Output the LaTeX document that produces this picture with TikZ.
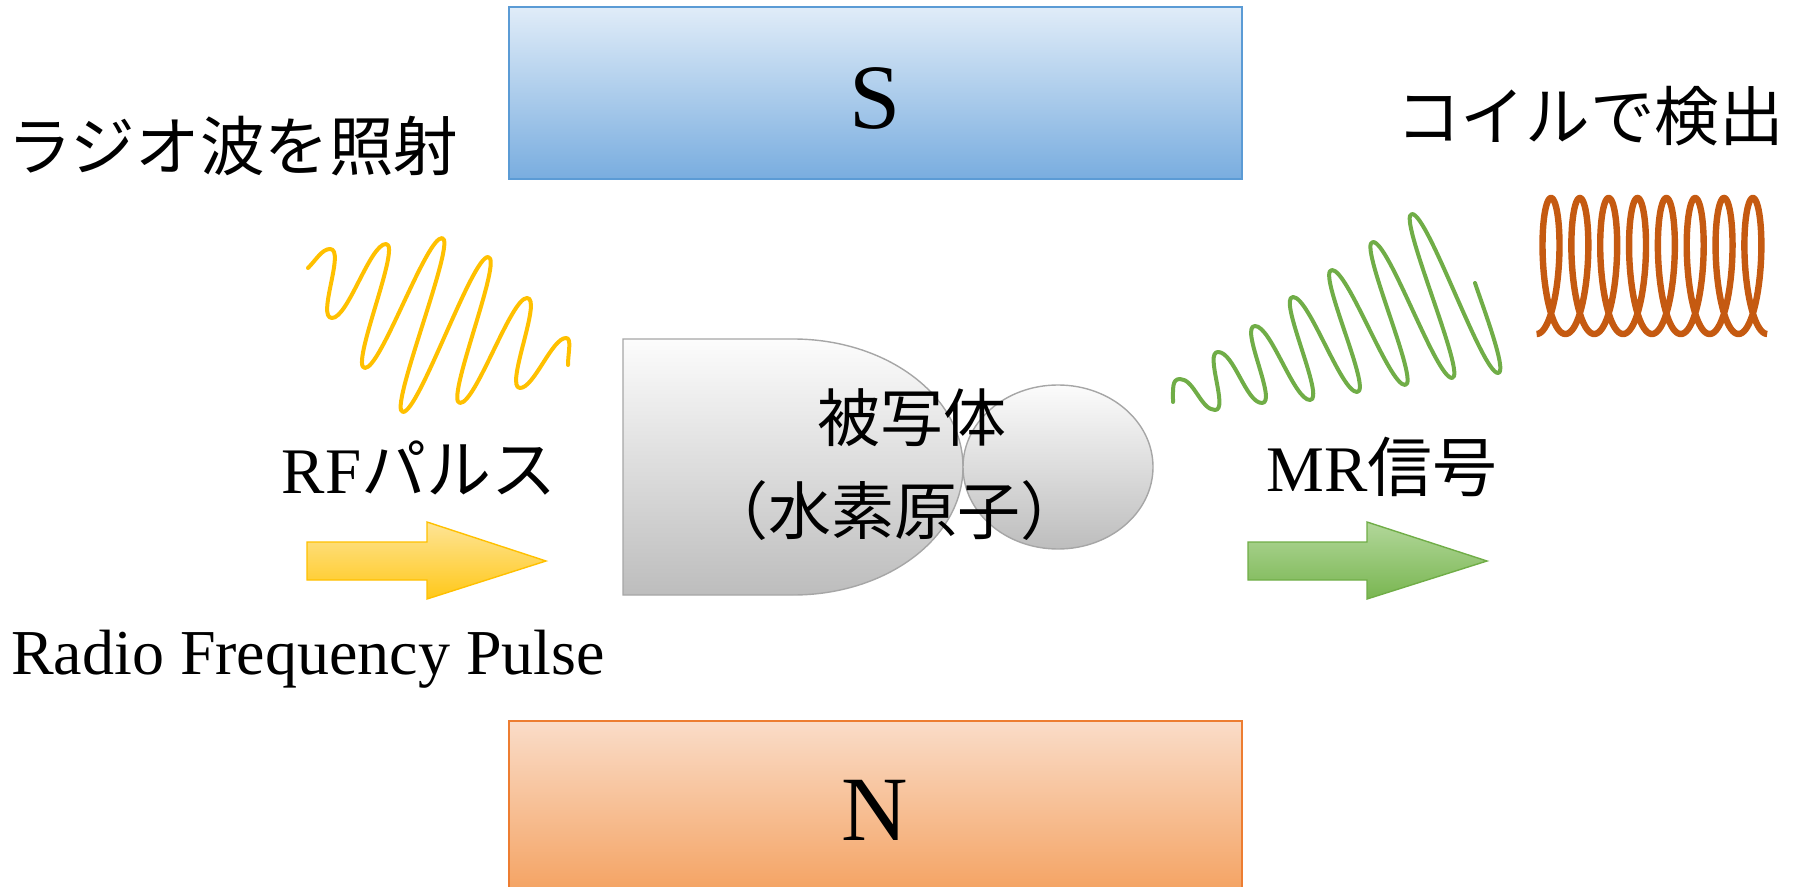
\documentclass[tikz,border=0pt]{standalone}
\usepackage{fontspec}
\setmainfont{Liberation Serif}
\newfontfamily\jp{Noto Sans CJK JP}
\definecolor{sTop}{HTML}{E0ECF8}
\definecolor{sBot}{HTML}{79ADDF}
\definecolor{sLine}{HTML}{5B9BD5}
\definecolor{nTop}{HTML}{FADCC8}
\definecolor{nBot}{HTML}{F4A261}
\definecolor{nLine}{HTML}{ED7D31}
\definecolor{yel}{HTML}{FFC000}
\definecolor{yelTop}{HTML}{FEE496}
\definecolor{yelBot}{HTML}{FFC819}
\definecolor{grn}{HTML}{70AD47}
\definecolor{grnTop}{HTML}{B2D79A}
\definecolor{grnBot}{HTML}{79B651}
\definecolor{coilc}{HTML}{C55A11}
\definecolor{bodyTop}{HTML}{FCFCFC}
\definecolor{bodyBot}{HTML}{BDBDBD}
\definecolor{bodyLine}{HTML}{A6A6A6}
\begin{document}
\begin{tikzpicture}[x=0.5pt,y=-0.5pt,
  magnetS/.style={top color=sTop,bottom color=sBot,draw=sLine,line width=0.65pt},
  magnetN/.style={top color=nTop,bottom color=nBot,draw=nLine,line width=0.65pt},
  bodyfill/.style={top color=bodyTop,bottom color=bodyBot,draw=bodyLine,line width=0.7pt},
  rfwave/.style={draw=yel,line width=2pt,line cap=round,line join=round},
  mrwave/.style={draw=grn,line width=2pt,line cap=round,line join=round},
  coilline/.style={draw=coilc,line width=3.2pt},
  jplabel/.style={inner sep=0pt,font=\jp\fontsize{31.5pt}{36pt}\selectfont},
  jpbig/.style={inner sep=0pt,font=\jp\fontsize{32.3pt}{37pt}\selectfont},
  poleletter/.style={inner sep=0pt,font=\fontsize{46pt}{52pt}\selectfont},
  serlabel/.style={inner sep=0pt,font=\fontsize{32.5pt}{38pt}\selectfont}]
\useasboundingbox (0,0) rectangle (1798,887);

% magnet poles
\path[magnetS] (509,7) rectangle (1242,179);
\path[magnetN] (509,721) rectangle (1242,895);
\node[poleletter] (poleS) at (875,98) {S};
\node[poleletter] (poleN) at (875,810) {N};

% subject (body and head)
\path[bodyfill] (623,339) -- (793,339)
  arc[start angle=-90,end angle=90,x radius=170,y radius=128]
  -- (623,595) -- cycle;
\path[bodyfill] (1058,467) ellipse [x radius=95,y radius=82];
\node[jplabel] (subj1) at (912,418) {被写体};
\node[jplabel] (subj2) at (894,511) {（水素原子）};

% incoming RF pulse
\path[rfwave] (308,268) .. controls +(8,-8) and +(-8,0) .. (330,249)
  .. controls +(16,0) and +(-16,0) .. (332,318)
  .. controls +(16,0) and +(-16,0) .. (386,244)
  .. controls +(16,0) and +(-16,0) .. (365,368)
  .. controls +(16,0) and +(-16,0) .. (442,238)
  .. controls +(16,0) and +(-16,0) .. (403,412)
  .. controls +(16,0) and +(-16,0) .. (488,257)
  .. controls +(16,0) and +(-16,0) .. (460,403)
  .. controls +(16,0) and +(-16,0) .. (527,298)
  .. controls +(16,0) and +(-16,0) .. (520,388)
  .. controls +(14,0) and +(-14,0) .. (566,338)
  .. controls +(6,0) and +(0,-12) .. (568,365);

% emitted MR signal
\path[mrwave] (1173,402) .. controls +(0,-14) and +(-8,0) .. (1180,379)
  .. controls +(14,0) and +(-14,0) .. (1215,410)
  .. controls +(14,0) and +(-14,0) .. (1218,352)
  .. controls +(16,0) and +(-16,0) .. (1262,403)
  .. controls +(16,0) and +(-16,0) .. (1255,326)
  .. controls +(16,0) and +(-16,0) .. (1310,400)
  .. controls +(16,0) and +(-16,0) .. (1293,297)
  .. controls +(16,0) and +(-16,0) .. (1357,392)
  .. controls +(16,0) and +(-16,0) .. (1332,270)
  .. controls +(16,0) and +(-16,0) .. (1405,385)
  .. controls +(16,0) and +(-16,0) .. (1373,242)
  .. controls +(16,0) and +(-16,0) .. (1452,378)
  .. controls +(16,0) and +(-16,0) .. (1412,214)
  .. controls +(16,0) and +(-16,0) .. (1498,373)
  .. controls +(10,0) and +(8,24) .. (1475,283);

% receiving coil
\path[coilline] plot[domain=-3.1416:47.124,samples=700,variable=\t]
  ({1551+4.59*\t-15*sin(\t r)},{266-68*cos(\t r)});

% arrows
\path[top color=yelTop,bottom color=yelBot,draw=yel,line width=0.7pt]
  (307,542) -- (427,542) -- (427,522) -- (546,561) -- (427,599) -- (427,580) -- (307,580) -- cycle;
\path[top color=grnTop,bottom color=grnBot,draw=grn,line width=0.7pt]
  (1248,542) -- (1367,542) -- (1367,522) -- (1487,561) -- (1367,599) -- (1367,580) -- (1248,580) -- cycle;

% labels
\node[jpbig] (irradiate) at (233,146) {ラジオ波を照射};
\node[jpbig] (detect) at (1590,116) {コイルで検出};
\node[serlabel] (rfpulse) at (419,468) {RF{\jp パルス}};
\node[serlabel] (mrsignal) at (1382,467) {MR{\jp 信号}};
\node[inner sep=0pt,font=\fontsize{32pt}{38pt}\selectfont] (rfname) at (308,659) {Radio Frequency Pulse};
\end{tikzpicture}
\end{document}
